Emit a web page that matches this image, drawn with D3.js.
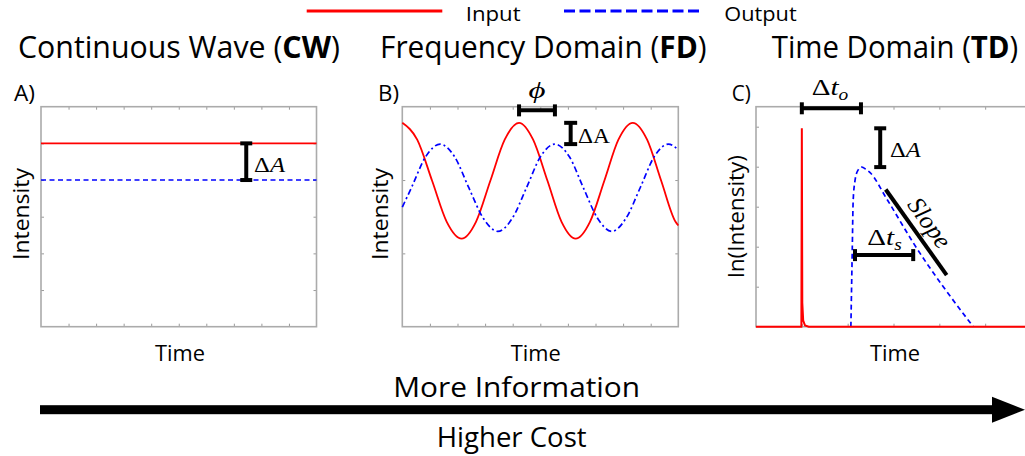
<!DOCTYPE html>
<html><head><meta charset="utf-8">
<script src="https://cdn.jsdelivr.net/npm/d3@7"></script>
<style>html,body{margin:0;padding:0;background:#fff;} svg{display:block;}</style>
</head><body>
<svg id="chart" width="1025" height="456"></svg>
<script>
// ---------------- data ----------------
const seriesNames = ["Input", "Output"];
const panelTitles = ["Continuous Wave", "Frequency Domain", "Time Domain"];
const panelAbbr = ["CW", "FD", "TD"];
const panelLetters = ["A)", "B)", "C)"];
const yLabels = ["Intensity", "Intensity", "ln(Intensity)"];
const xLabel = "Time";

// A) continuous wave
const cwTime = [0, 10];
const cwInput = [5, 5];
const cwOutput = [4, 4];

// B) frequency domain
const fdInputTime = [0, 0.54, 1.08, 1.61, 2.15, 2.67, 3.19, 3.71, 4.23, 4.74, 5.26, 5.77, 6.28, 6.80, 7.32, 7.83, 8.35, 8.87, 9.38, 9.90, 10];
const fdInputVal  = [2.78, 2.55, 1.99, 1.43, 1.20, 1.43, 1.99, 2.55, 2.78, 2.55, 1.99, 1.43, 1.20, 1.43, 1.99, 2.55, 2.78, 2.55, 1.99, 1.43, 1.38];
const fdOutputTime = [0, 0.33, 0.85, 1.37, 1.89, 2.41, 2.94, 3.46, 3.98, 4.50, 5.01, 5.53, 6.05, 6.56, 7.08, 7.59, 8.10, 8.62, 9.13, 9.64, 10];
const fdOutputVal  = [1.63, 1.895, 2.32, 2.49, 2.32, 1.895, 1.475, 1.30, 1.475, 1.895, 2.32, 2.49, 2.32, 1.895, 1.475, 1.30, 1.475, 1.895, 2.32, 2.49, 2.41];

// C) time domain (log intensity)
const tdInputTime = [0, 0.99, 1.0, 1.01, 1.03, 1.07, 1.15, 6];
const tdInputVal  = [0, 0, 4.96, 0.6, 0.15, 0.03, 0, 0];
const tdOutputTime = [2.07, 2.10, 2.12, 2.16, 2.22, 2.31, 2.40, 2.49, 2.85, 3.43, 4.74];
const tdOutputVal  = [0, 1.9, 3.15, 3.65, 3.9, 3.99, 3.93, 3.85, 3.2, 2.1, 0];

// annotation anchors (data units)
const cwDeltaA = {t: 7.45, from: 4, to: 5};
const fdPhase = {from: 4.23, to: 5.53, level: 2.95};
const fdDeltaA = {t: 6.1, from: 2.49, to: 2.78};
const tdDeltaTo = {from: 1.0, to: 2.29, level: 5.46};
const tdDeltaA = {t: 2.71, from: 3.99, to: 4.96};
const tdDeltaTs = {from: 2.16, to: 3.43, level: 1.79};
const tdSlope = {t0: 2.83, v0: 3.43, t1: 4.16, v1: 1.29};

// ---------------- drawing ----------------
const SANS = "'Open Sans', 'Noto Sans', sans-serif";
const SERIF = "'Liberation Serif', 'DejaVu Serif', serif";
const RED = "#ff0000", BLUE = "#0000ff";
const svg = d3.select("#chart");

function fitText(parent, parts, o) {
  const t = parent.append("text")
    .attr("font-family", o.family || SANS)
    .attr("font-size", o.size)
    .attr("text-anchor", o.anchor || "start")
    .attr("fill", "#000");
  if (o.style) t.attr("font-style", o.style);
  parts.forEach(p => {
    const ts = t.append("tspan").text(p.text);
    if (p.weight) ts.attr("font-weight", p.weight);
    if (p.style) ts.attr("font-style", p.style);
    if (p.size) ts.attr("font-size", p.size);
    if (p.dy) ts.attr("dy", p.dy);
  });
  const w = t.node().getComputedTextLength();
  const sx = o.width ? o.width / w : 1;
  t.attr("transform", `translate(${o.x},${o.y}) rotate(${o.rotate || 0}) scale(${sx},1)`);
  return t;
}

function frame(g, x, y, xt, yt) {
  const [x0, x1] = x.range(), [y0, y1] = y.range();
  const style = s => { s.select(".domain").remove(); s.selectAll("line").attr("stroke", "#9a9a9a").attr("stroke-width", 1); };
  g.append("g").attr("transform", `translate(0,${y0})`).call(d3.axisBottom(x).tickValues(xt).tickSize(-3).tickFormat("")).call(style);
  g.append("g").attr("transform", `translate(0,${y1})`).call(d3.axisTop(x).tickValues(xt).tickSize(-3).tickFormat("")).call(style);
  g.append("g").attr("transform", `translate(${x0},0)`).call(d3.axisLeft(y).tickValues(yt).tickSize(-3).tickFormat("")).call(style);
  g.append("g").attr("transform", `translate(${x1},0)`).call(d3.axisRight(y).tickValues(yt).tickSize(-3).tickFormat("")).call(style);
  g.append("rect").attr("x", x0).attr("y", y1).attr("width", x1 - x0).attr("height", y0 - y1)
    .attr("fill", "none").attr("stroke", "#ababab").attr("stroke-width", 1.6);
}

function series(g, x, y, ts, vs, color, dash, curve, w) {
  const line = d3.line().x(d => x(d[0])).y(d => y(d[1])).curve(curve || d3.curveLinear);
  g.append("path").datum(ts.map((t, i) => [t, vs[i]]))
    .attr("d", line).attr("fill", "none").attr("stroke", color)
    .attr("stroke-width", w || 1.7).attr("stroke-dasharray", dash || null);
}

function vBracket(g, xp, ya, yb, cap) {
  g.append("line").attr("x1", xp).attr("x2", xp).attr("y1", ya).attr("y2", yb).attr("stroke", "#000").attr("stroke-width", 4);
  [ya, yb].forEach(yy => g.append("line").attr("x1", xp - cap / 2).attr("x2", xp + cap / 2).attr("y1", yy).attr("y2", yy).attr("stroke", "#000").attr("stroke-width", 4));
}
function hBracket(g, yp, xa, xb, cap) {
  g.append("line").attr("x1", xa).attr("x2", xb).attr("y1", yp).attr("y2", yp).attr("stroke", "#000").attr("stroke-width", 4);
  [xa, xb].forEach(xx => g.append("line").attr("x1", xx).attr("x2", xx).attr("y1", yp - cap / 2).attr("y2", yp + cap / 2).attr("stroke", "#000").attr("stroke-width", 4));
}

const plotTop = 106.7, plotBottom = 326.7;

// ---- Panel A ----
const gA = svg.append("g");
const xA = d3.scaleLinear().domain([0, 10]).range([41, 316.5]);
const yA = d3.scaleLinear().domain([0, 6]).range([plotBottom, plotTop]);
frame(gA, xA, yA, d3.range(1, 10), d3.range(1, 6));
series(gA, xA, yA, cwTime, cwInput, RED, null, null, 1.7);
series(gA, xA, yA, cwTime, cwOutput, BLUE, "5,3.5", null, 1.6);
vBracket(gA, xA(cwDeltaA.t), yA(cwDeltaA.to), yA(cwDeltaA.from), 12);
fitText(gA, [{text: "Δ"}, {text: "A", style: "italic"}], {x: 254, y: 172, size: 22, family: SERIF, width: 31});

// ---- Panel B ----
const gB = svg.append("g");
const xB = d3.scaleLinear().domain([0, 10]).range([402.3, 678.3]);
const yB = d3.scaleLinear().domain([0, 3]).range([plotBottom, plotTop]);
frame(gB, xB, yB, d3.range(1, 10), [1, 2]);
series(gB, xB, yB, fdInputTime, fdInputVal, RED, null, d3.curveMonotoneX, 1.8);
series(gB, xB, yB, fdOutputTime, fdOutputVal, BLUE, "6,3,2,3", d3.curveMonotoneX, 1.7);
hBracket(gB, yB(fdPhase.level), xB(fdPhase.from), xB(fdPhase.to), 12);
fitText(gB, [{text: "ϕ"}], {x: (xB(fdPhase.from) + xB(fdPhase.to)) / 2, y: 98, size: 24, family: SERIF, style: "italic", anchor: "middle", width: 17});
vBracket(gB, xB(fdDeltaA.t), yB(fdDeltaA.to), yB(fdDeltaA.from), 13);
fitText(gB, [{text: "ΔA"}], {x: 578, y: 143, size: 22, family: SERIF, width: 32});

// ---- Panel C ----
const gC = svg.append("g");
const xC = d3.scaleLinear().domain([0, 6]).range([756, 1031]);
const yC = d3.scaleLinear().domain([0, 5.5]).range([plotBottom, plotTop]);
frame(gC, xC, yC, d3.range(1, 6), d3.range(1, 6));
series(gC, xC, yC, tdOutputTime, tdOutputVal, BLUE, "5,3.5", d3.curveMonotoneX, 1.7);
series(gC, xC, yC, tdInputTime, tdInputVal, RED, null, null, 2);
hBracket(gC, yC(tdDeltaTo.level), xC(tdDeltaTo.from), xC(tdDeltaTo.to), 12);
fitText(gC, [{text: "Δ"}, {text: "t", style: "italic"}, {text: "o", style: "italic", size: 16, dy: 5}], {x: 811.7, y: 95, size: 24, family: SERIF, width: 36.6});
vBracket(gC, xC(tdDeltaA.t), yC(tdDeltaA.to), yC(tdDeltaA.from), 12);
fitText(gC, [{text: "Δ"}, {text: "A", style: "italic"}], {x: 890, y: 156.7, size: 22, family: SERIF, width: 30.7});
hBracket(gC, yC(tdDeltaTs.level), xC(tdDeltaTs.from), xC(tdDeltaTs.to), 12);
fitText(gC, [{text: "Δ"}, {text: "t", style: "italic"}, {text: "s", style: "italic", size: 16, dy: 5}], {x: 867.3, y: 245, size: 24, family: SERIF, width: 34.4});
const sx0 = xC(tdSlope.t0), sy0 = yC(tdSlope.v0), sx1 = xC(tdSlope.t1), sy1 = yC(tdSlope.v1);
gC.append("line").attr("x1", sx0).attr("y1", sy0).attr("x2", sx1).attr("y2", sy1).attr("stroke", "#000").attr("stroke-width", 4);
const ang = Math.atan2(sy1 - sy0, sx1 - sx0);
const nx = Math.sin(ang), ny = -Math.cos(ang);
fitText(gC, [{text: "Slope"}], {x: (sx0 + sx1) / 2 + nx * 8, y: (sy0 + sy1) / 2 + ny * 8, size: 25, family: SERIF, style: "italic", anchor: "middle", rotate: ang * 180 / Math.PI, width: 56});

// ---- titles, labels ----
const titleX = [18, 380, 771.7], titleW = [322, 326.7, 246.6];
panelTitles.forEach((t, i) => fitText(svg, [{text: t + " ("}, {text: panelAbbr[i], weight: "bold"}, {text: ")"}], {x: titleX[i], y: 58, size: 30.5, width: titleW[i]}));
const letterX = [14, 378, 731.7], letterW = [21, 21, 19];
panelLetters.forEach((t, i) => fitText(svg, [{text: t}], {x: letterX[i], y: 101, size: 22.5, width: letterW[i]}));
const timeX = [180, 535.7, 895];
timeX.forEach(cx => fitText(svg, [{text: xLabel}], {x: cx, y: 361, size: 21.5, anchor: "middle", width: 50}));
const ylX = [28.5, 387.5, 743.5], ylY = [214, 214, 216.5], ylW = [92, 92, 123];
yLabels.forEach((t, i) => fitText(svg, [{text: t}], {x: ylX[i], y: ylY[i], size: 22.5, anchor: "middle", rotate: -90, width: ylW[i]}));

// ---- legend ----
svg.append("line").attr("x1", 306.7).attr("x2", 442.3).attr("y1", 11).attr("y2", 11).attr("stroke", RED).attr("stroke-width", 3);
fitText(svg, [{text: seriesNames[0]}], {x: 465.7, y: 21, size: 20.5, width: 55});
svg.append("line").attr("x1", 564).attr("x2", 699.3).attr("y1", 11).attr("y2", 11).attr("stroke", BLUE).attr("stroke-width", 3).attr("stroke-dasharray", "11,4.5");
fitText(svg, [{text: seriesNames[1]}], {x: 724.3, y: 21, size: 20.5, width: 72.4});

// ---- bottom arrow ----
svg.append("rect").attr("x", 40).attr("y", 405.2).attr("width", 953).attr("height", 9).attr("fill", "#000");
svg.append("path").attr("d", "M992,396.7 L1025,409.7 L992,422.7 Z").attr("fill", "#000");
fitText(svg, [{text: "More Information"}], {x: 516.7, y: 397, size: 27, anchor: "middle", width: 247});
fitText(svg, [{text: "Higher Cost"}], {x: 511.7, y: 447, size: 28, anchor: "middle", width: 150});
</script>
</body></html>
